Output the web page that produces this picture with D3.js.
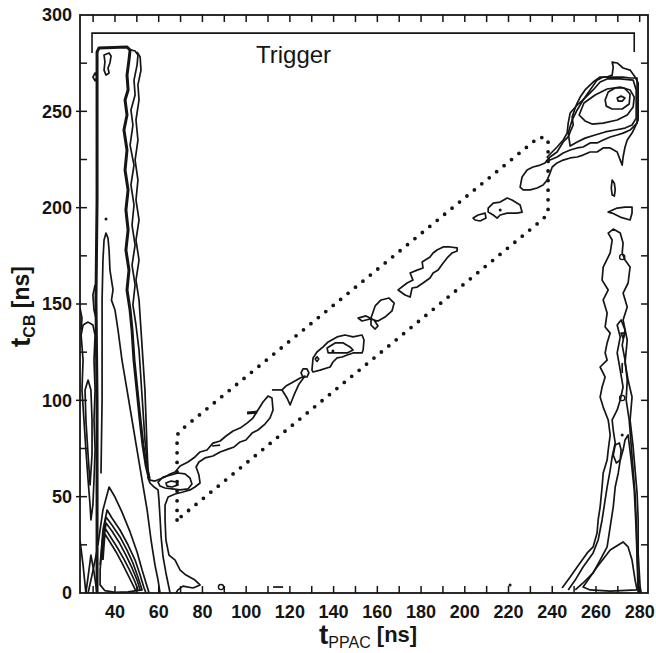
<!DOCTYPE html>
<html><head><meta charset="utf-8">
<script src="https://cdn.jsdelivr.net/npm/d3@7"></script>
<style>body{margin:0;background:#fff}svg{display:block}</style>
</head><body><svg id="c" width="656" height="653"></svg>
<script>
// ---------- axes / ticks ----------
const xDomain = [24, 283.8];
const yDomain = [0, 300];
const xTickLabels = [40, 60, 80, 100, 120, 140, 160, 180, 200, 220, 240, 260, 280];
const xMinorTicks = [30, 40, 50, 60, 70, 80, 90, 100, 110, 120, 130, 140, 150, 160, 170, 180, 190, 200, 210, 220, 230, 240, 250, 260, 270, 280];
const yTickLabels = [0, 50, 100, 150, 200, 250, 300];
const yMinorTicks = [25, 50, 75, 100, 125, 150, 175, 200, 225, 250, 275];

// ---------- annotations ----------
const triggerBracket = [[29.5, 280.3], [29.5, 290.6], [277.5, 290.6], [277.5, 280.8]];
const triggerLabel = {text: "Trigger", x: 104.5, y: 275};
const gateBox = [[68.4, 37.9], [68.4, 82.0], [70.2, 84.6], [234.0, 236.7], [238.1, 235.6], [238.1, 197.2], [235.8, 194.1], [68.4, 37.9]];

// ---------- contour lines (t_PPAC, t_CB) ----------
const leftColumnEdge = [[31.8,0],[31.8,100.2],[31.3,152.1],[31.8,204],[31.8,255.9],[31.8,280.8],[32.7,282.9],[45.5,283.4],[46.9,281.8],[46.4,276.6],[45.5,268.8],[46,261.1],[44.6,255.9],[45.5,248.1],[44.1,240.3],[45.5,229.9],[44.6,219.5],[46,209.2],[45,198.8],[46,188.4],[45,178],[46.4,167.6],[45.5,157.3],[46.9,146.9],[47.8,136.5],[48.7,120.9],[50.1,105.4],[51.5,89.8],[52.8,76.8],[54.2,66.4],[55.6,59.7]];
const columnMid = [[46,282.3],[49.2,281.3],[50.5,279.2],[50.1,274],[48.7,266.2],[49.2,258.5],[47.3,250.7],[48.2,242.9],[46.9,232.5],[48.7,222.1],[47.3,211.8],[48.7,201.4],[47.8,191],[49.2,180.6],[47.8,170.2],[49.2,159.9],[48.2,149.5],[49.6,139.1],[51,126.1],[51.9,110.5],[52.8,95],[53.7,79.4],[54.7,69],[55.1,59.7],[56,57.1],[57.9,55],[59.7,53.5],[60.1,48.3],[60.6,39.4],[61.1,29.1],[62,18.7],[63.3,10.4],[65.2,0]];
const columnOuter = [[50.1,280.8],[51.5,278.2],[51.9,271.4],[50.5,263.7],[51,255.9],[49.6,245.5],[50.5,235.1],[49.2,224.7],[50.5,214.3],[49.6,204],[51,193.6],[49.6,183.2],[51,172.8],[49.6,162.4],[51,152.1],[51.9,136.5],[52.8,120.9],[53.7,105.4],[54.2,89.8],[54.7,74.2],[55.1,63.8],[56,58.6],[58.3,58.1],[60.6,59.2],[62.9,60.2],[65.2,61.8],[67.5,62.8],[69.8,65.9],[73.4,68],[76.6,70.6],[78.9,73.2],[82.1,74.2],[84.8,77.8],[88.1,78.9],[90.8,81.5],[94,84.1],[97.2,85.6],[100.4,88.2],[103.1,90.8],[105.4,95],[107.7,99.1],[110,102.2],[111.8,101.2],[112.3,95],[110.9,90.8],[108.6,87.7],[105.4,84.6],[102.7,83],[99.9,79.4],[97.2,78.4],[94.5,75.8],[91.7,74.7],[88.1,73.2],[84.8,71.1],[81.2,70.1],[78.4,68],[77.1,65.4],[78.4,61.2],[78.9,57.1],[76.6,55],[74.3,53.5],[71.1,52.4],[67.5,51.4],[64.3,49.8],[62.9,45.7],[62.9,37.9],[63.3,27.5],[64.7,19.7],[67.5,17.1],[69.8,11.9],[72.5,9.3],[76.6,6.7],[78.9,4.2],[75.7,2.6],[71.1,3.6],[68.8,1.6],[67.9,0]];
const innerSpike = [[33.6,62],[34.1,100.2],[34.1,152.1],[34.5,172.8],[35,183.2],[35.9,186.8],[36.8,184.2],[37.3,178],[37.7,167.6],[39.1,157.3],[38.4,152],[40,146.9],[41.4,136.5],[43.2,120.9],[45.5,105.4],[47.8,89.8],[50.1,74.2],[52.4,58.6],[54.7,43.1],[56.5,27.5],[58.3,14.5],[59.7,6.7],[60.6,0]];
const baseArc0 = [[32.2,24.9],[34.5,43.1],[37.3,55],[40,49.8],[43.2,42],[46.9,31.7],[50.1,21.3],[52.4,11.9],[54.2,5.2],[55.6,0]];
const baseArc1 = [[33.2,14.5],[34.5,32.7],[36.4,43.1],[38.6,38.9],[42.3,32.7],[46,24.9],[49.2,17.1],[51.5,9.3],[53.3,2.6],[54.2,0]];
const baseArc2 = [[33.2,11.9],[34.5,30.1],[35.9,39.4],[38.6,35.3],[42.3,29.1],[45.5,22.3],[48.2,15.6],[50.5,8.3],[52.4,1.6],[46,0.6],[40,0.4],[35.4,1.2],[33.2,4.2]];
const baseArc3 = [[33.6,17.1],[35,29.1],[35.9,36.3],[38.6,32.2],[41.8,26.5],[45,19.7],[47.8,13],[50.1,6.7],[51.5,1.6]];
const baseArc4 = [[34.1,17.1],[34.5,24.9],[35.4,33.7],[37.7,29.6],[40.9,23.9],[44.1,17.6],[46.9,11.4],[49.2,5.7],[50.5,1.6]];
const baseArc5 = [[34.5,17.1],[35,24.9],[35.4,30.6],[37.7,26.5],[40.5,21.3],[43.2,15.6],[46,9.3],[48.2,4.2],[49.6,1]];
const edgeLoop1 = [[24.5,133.9],[25.4,120.9],[24.9,105.4],[25.8,89.8],[26.7,74.2],[27.7,58.6],[28.6,45.7],[29,37.9],[29.9,45.7],[30.4,58.6],[30.9,74.2],[30.4,89.8],[30.9,105.4],[30.4,120.9],[30.9,133.9],[29.9,139.1],[27.7,140.6],[25.4,139.1]];
const edgeLoop2 = [[26.3,105.4],[26.7,89.8],[27.7,71.6],[28.6,56.1],[29.5,71.6],[29.5,89.8],[29,105.4],[27.7,110.5]];
const edgeFoot1 = [[24,27.5],[25.4,14.5],[26.7,0]];
const edgeFoot2 = [[26.7,0],[28.1,11.9],[29,19.7],[30.4,10.9],[31.8,0]];
const edgeFoot3 = [[27.7,0],[29.5,9.3],[30.9,17.1],[31.8,22.3]];
const edgeBits = [[30.9,159.9],[29.9,154.7],[30.4,146.9],[31.3,142.7]];
const edgeBits2 = [[24,147.9],[24.9,142.7],[24.5,136.5]];
const topLoop = [[35,279.2],[37.3,280.3],[38.2,278.7],[37.7,275.1],[36.8,272.5],[37.3,269.9],[35.9,268.8],[35,271.4],[35.4,275.6]];
const sideBump = [[30.9,269.9],[29.9,267.8],[30.9,265.8],[31.8,267.8]];
const shoulderBlob = [[59.7,57.6],[62,60.2],[65.2,61.2],[68.8,62.3],[72,61.8],[74.3,59.7],[75.2,56.6],[73.4,54],[69.8,53.5],[66.1,54],[62.9,54.5],[60.6,55.5]];
const shoulderCore = [[63.3,57.1],[65.6,58.1],[68.4,57.6],[68.8,56.1],[66.1,55],[63.8,55.5]];
const bandDash1 = [[100.4,93.4],[105,93.9]];
const bandDash2 = [[84.4,76.3],[88.1,76.8]];
const crossTail = [[111.8,105.4],[116.4,105.4]];
const crossLoop = [[116.4,105.4],[118.7,101.2],[120.1,97.6],[121.9,102.8],[124.2,108.5],[126.9,112.6],[124.7,111.6],[121.5,109.5],[118.2,107.4]];
const ring1 = [[125.1,114.2],[126,116.3],[127.8,116.3],[128.7,114.2],[127.8,112.1],[126,112.1]];
const midBlob = [[130.1,115.7],[130.6,122],[132.4,125.1],[135.2,127.7],[137.5,130.3],[141.6,132.9],[145.2,133.9],[148.9,132.9],[153,133.9],[153.9,131.3],[153.5,126.1],[153,124.6],[148.9,124.6],[146.2,123.5],[143.9,122.5],[141.6,122],[139.7,119.9],[138.4,117.3],[133.8,115.7],[130.6,114.7]];
const midCore = [[137,127.2],[140.7,129.8],[144.4,129.8],[147.5,127.7],[148.9,126.1],[146.2,124.6],[141.6,124.6],[137.5,124.6]];
const ring2 = [[131.6,121.4],[132.4,122.6],[133.2,121.4],[132.4,120.2]];
const bowtie = [[151.2,142.7],[154.8,143.8],[158.5,141.7],[160.3,138.6],[159,137],[157.1,139.1],[157.1,142.7],[159,149],[161.7,152.1],[165.4,153.1],[167.7,150.5],[166.7,146.4],[163.5,143.2],[160.3,141.2],[156.7,142.2],[153,141.2]];
const wavyBand = [[169.5,157.3],[173.6,160.9],[176.3,162.4],[175,166.1],[178.2,167.6],[180.9,168.7],[180.5,171.8],[184.1,174.4],[185.5,176.5],[187.3,178],[190.1,179.6],[193.3,179.6],[196.5,179.1],[196.5,177.5],[194.2,176.5],[191.9,173.9],[190.1,171.3],[187.8,167.6],[185.5,166.1],[184.1,163.5],[180.9,160.9],[178.2,158.8],[175.9,158.3],[175,153.6],[172.7,154.7]];
const smallLeaf = [[203.8,194.6],[206.1,196.2],[209.3,197.2],[209.7,194.6],[207,193.1],[204.7,193.6]];
const smallBlob = [[210.7,199.8],[213,202.4],[216.2,202.9],[219.4,205],[221.6,204],[225.3,201.4],[226.2,197.7],[223.9,197.2],[219.4,197.2],[216.2,196.2],[214.8,194.6],[213,196.2],[210.7,197.7]];
const peakOuter = [[225.3,210.7],[226.2,215.9],[228.5,219.5],[231.2,221.1],[234.5,222.1],[236.7,223.2],[237.7,224.7],[239,226.3],[242.2,228.9],[243.6,231.5],[245,234.1],[247.3,236.7],[248.2,239.3],[249.6,242.9],[249.1,247],[250.5,251.7],[251.4,254.3],[252.8,257.4],[255,261.1],[258.7,265.2],[261.9,267.8],[265.1,267.8],[267.4,268.8],[267.9,273],[267.4,275.6],[269.7,275.1],[272.4,272.5],[275.6,271.4],[277.9,267.8],[279.3,264.7],[279.3,245.5],[277.9,241.9],[276.5,238.7],[274.3,235.1],[273.3,231.5],[272.4,226.3],[272,222.1],[271.1,224.7],[269.7,228.9],[266.5,231],[263.3,231],[260.5,228.9],[257.3,228.9],[254.1,227.3],[251.4,226.3],[248.2,225.8],[245,224.7],[242.2,223.2],[240,221.1],[239,218],[237.7,214.3],[235.8,211.8],[233.1,210.2],[229.9,209.2],[226.7,209.2]];
const peakSecond = [[237.7,226.3],[242.2,231.5],[245,235.1],[246.8,238.7],[247.3,243.9],[248.2,249.1],[251.4,253.3],[254.1,255.9],[257.3,261.1],[260.5,266.2],[263.3,267.8],[267.9,267.8],[272.4,267.8],[275.6,267.3],[278.8,267.3],[278.8,243.9],[275.6,240.3],[272.4,238.7],[269.7,237.7],[266.5,236.7],[263.3,235.1],[260.5,233.6],[257.3,233.6],[254.1,231.5],[251.4,231],[248.2,229.9],[245,228.4],[242.2,226.3],[239,224.7]];
const peakThird = [[248.2,232],[247.3,238.7],[249.1,245.5],[251.4,250.7],[254.1,255.9],[258.7,261.1],[261.9,265.2],[265.1,266.8],[271.1,266.8],[277,266.2],[278.4,261.1],[278.4,246.5],[276.5,242.9],[273.3,241.3],[268.8,240.3],[264.2,239.3],[259.6,237.7],[255,236.1],[251.4,234.1]];
const peakOval = [[252.3,248.1],[254.5,254.3],[259.6,258.5],[265.1,261.6],[271.1,262.6],[275.6,261.1],[277.5,257.4],[277,252.2],[274.3,248.1],[269.7,245.5],[263.3,243.9],[258.2,243.4],[255,245]];
const peakInner = [[264.2,255.9],[265.6,260],[268.8,262.1],[272.9,262.1],[275.6,259],[275.2,253.8],[272,251.2],[267.4,251.2],[264.7,252.7]];
const peakCore = [[269.7,256.9],[271.5,257.9],[273.3,256.9],[272,255.3],[270.2,255.3]];
const rightSliver = [[267.4,214.3],[268.4,212.7],[268.8,209.2],[268.4,206],[267.4,206.6],[267,210.2]];
const rightWedge = [[265.6,197.7],[269.7,199.8],[273.3,200.3],[276.5,200.3],[276.5,197.2],[275.6,193.6],[271.1,195.1],[267.4,197.2]];
const rightOuter = [[244.5,2.6],[248.2,8.3],[251.4,13.5],[256,20.8],[258.7,23.9],[260.5,31.1],[261,37.9],[261.9,44.6],[262.8,55],[263.3,62.3],[265.1,69],[265.6,74.2],[266.5,82],[265.6,89.8],[263.3,96.5],[261.9,101.7],[262.8,106.9],[264.2,112.1],[261.9,117.3],[265.1,120.9],[264.2,124.6],[265.1,129.8],[266.5,134.9],[264.2,138.1],[265.1,145.3],[263.3,152.1],[265.6,157.3],[262.8,162.4],[263.3,169.2],[266.5,176.5],[267.4,183.2],[265.6,186.8],[267.9,188.9],[271.1,186.8],[272.4,181.7],[272,176.5],[273.3,172.8],[275.6,169.2],[274.7,160.9],[272.4,155.7],[274.3,148.4],[272.4,141.7],[274.3,131.3],[273.3,119.4],[274.7,110.5],[276.5,101.7],[275.6,89.8],[277,75.8],[277.9,63.8],[278.8,51.9],[279.3,37.9],[279.3,20.8],[280.2,3.1],[280.7,0]];
const rightSecond = [[247.3,1.6],[250.5,6.7],[254.1,13.5],[258.7,20.8],[261,27.5],[262.8,37.9],[264.2,48.3],[265.1,55],[266.5,63.8],[267.4,70.6],[268.8,77.9],[267.9,84.6],[267.4,89.8],[269.7,95],[271.1,100.2],[272.4,106.9],[271.1,115.7],[269.7,124.6],[271.1,132.9],[269.7,139.1],[271.5,141.7],[273.3,136.5],[272,128.7],[273.3,120.9],[274.3,110.5],[273.8,100.2],[275.2,89.8],[276.1,76.8],[277,63.8],[277.9,50.9],[278.4,37.9],[278.8,22.3],[279.3,6.7],[279.7,0]];
const rightThird = [[250.5,1.6],[254.1,5.2],[258.7,10.4],[261.9,17.1],[265.1,23.9],[266.5,34.3],[267.9,44.6],[268.8,55],[270.2,62.3],[271.1,69],[272.4,74.2],[273.3,79.4],[274.7,82],[276.1,69],[277.5,53.5],[278.4,32.7],[279.3,0]];
const rightIsland = [[267.9,71.6],[268.8,76.8],[270.7,77.9],[271.5,74.2],[271.1,69],[269.3,67.5]];
const rightDash = [[272,119.4],[272,114.2]];
const rightTriangle = [[254.1,3.1],[260.5,13.5],[266.5,22.3],[272.4,26.5],[274.7,23.9],[276.5,17.1],[277.9,6.7],[278.8,1.6],[266.5,1],[257.3,1.6]];
const rightTick = [[271.5,134.9],[273.3,134.9],[272.4,132.3]];
const bottomDash = [[112.3,3.1],[116.9,3.1]];
const smallRings = [[88.5,3.1],[272,101.2],[272,174.4]];
const dots = [[68.4,56.6],[139.7,125.6],[216.2,198.8],[272,82],[220.7,4.2],[35.9,194.1]];

const openLines = [columnMid, columnOuter, innerSpike, baseArc0, baseArc1, baseArc3, baseArc4, baseArc5,
  edgeFoot1, edgeFoot2, edgeFoot3, edgeBits, edgeBits2, bandDash2, crossTail, rightSecond, rightThird, rightDash, bottomDash, rightOuter];
const closedLines = [baseArc2, edgeLoop1, edgeLoop2, topLoop, sideBump, shoulderBlob, shoulderCore, crossLoop, ring1, midBlob, midCore, ring2,
  bowtie, wavyBand, smallLeaf, smallBlob, peakOuter, peakSecond, peakThird, peakOval, peakInner, peakCore,
  rightSliver, rightWedge, rightIsland, rightTriangle, rightTick];
const thickLines = [leftColumnEdge, bandDash1];

// ---------- drawing ----------
const x = d3.scaleLinear().domain(xDomain).range([80, 648]);
const y = d3.scaleLinear().domain(yDomain).range([593, 15]);
const svg = d3.select("#c");
const ink = "#151515";
const font = "'Liberation Sans', Arial, sans-serif";

svg.append("defs").append("clipPath").attr("id", "plot")
  .append("rect").attr("x", 80).attr("y", 15).attr("width", 568).attr("height", 578);

const g = svg.append("g").attr("clip-path", "url(#plot)");
const lineOpen = d3.line().x(d => x(d[0])).y(d => y(d[1]));
const lineClosed = d3.line().x(d => x(d[0])).y(d => y(d[1])).curve(d3.curveLinearClosed);

g.selectAll(".open").data(openLines).join("path")
  .attr("d", lineOpen).attr("fill", "none").attr("stroke", ink).attr("stroke-width", 1.7).attr("stroke-linejoin", "round");
g.selectAll(".closed").data(closedLines).join("path")
  .attr("d", lineClosed).attr("fill", "none").attr("stroke", ink).attr("stroke-width", 1.7).attr("stroke-linejoin", "round");
g.selectAll(".thick").data(thickLines).join("path")
  .attr("d", lineOpen).attr("fill", "none").attr("stroke", ink).attr("stroke-width", 3).attr("stroke-linejoin", "round");
g.selectAll(".ring").data(smallRings).join("circle")
  .attr("cx", d => x(d[0])).attr("cy", d => y(d[1])).attr("r", 2.6).attr("fill", "none").attr("stroke", ink).attr("stroke-width", 1.4);
g.selectAll(".dot").data(dots).join("circle")
  .attr("cx", d => x(d[0])).attr("cy", d => y(d[1])).attr("r", 1.5).attr("fill", ink);

// dotted gate
svg.append("path").datum(gateBox).attr("d", lineOpen)
  .attr("fill", "none").attr("stroke", ink).attr("stroke-width", 3.8)
  .attr("stroke-linecap", "round").attr("stroke-dasharray", "0 9.6");

// trigger bracket
svg.append("path").datum(triggerBracket).attr("d", lineOpen)
  .attr("fill", "none").attr("stroke", ink).attr("stroke-width", 1.6);
svg.append("text").attr("x", x(triggerLabel.x)).attr("y", y(triggerLabel.y))
  .attr("font-family", font).attr("font-size", 24).attr("fill", ink).text(triggerLabel.text);

// frame
svg.append("rect").attr("x", 80).attr("y", 15).attr("width", 568).attr("height", 578)
  .attr("fill", "none").attr("stroke", ink).attr("stroke-width", 1.8);

// ticks
const tk = svg.append("g").attr("stroke", ink).attr("stroke-width", 1.5);
tk.selectAll(".tb").data(xMinorTicks).join("line")
  .attr("x1", d => x(d)).attr("x2", d => x(d)).attr("y1", 593).attr("y2", 586);
tk.selectAll(".tt").data(xMinorTicks).join("line")
  .attr("x1", d => x(d)).attr("x2", d => x(d)).attr("y1", 15).attr("y2", 22);
tk.selectAll(".tl").data(yMinorTicks).join("line")
  .attr("y1", d => y(d)).attr("y2", d => y(d)).attr("x1", d => d % 50 === 0 ? 76 : 80).attr("x2", 87);
tk.selectAll(".tr").data(yMinorTicks).join("line")
  .attr("y1", d => y(d)).attr("y2", d => y(d)).attr("x1", 648).attr("x2", 641);

// tick labels
svg.selectAll(".xl").data(xTickLabels).join("text")
  .attr("x", d => x(d)).attr("y", 618).attr("text-anchor", "middle")
  .attr("font-family", font).attr("font-size", 18).attr("font-weight", "bold").attr("fill", ink).text(d => d);
svg.selectAll(".yl").data(yTickLabels).join("text")
  .attr("x", 72).attr("y", d => y(d)).attr("dy", "0.36em").attr("text-anchor", "end")
  .attr("font-family", font).attr("font-size", 18).attr("font-weight", "bold").attr("fill", ink).text(d => d);

// axis titles
const xt = svg.append("text").attr("x", 319).attr("y", 644).attr("font-family", font).attr("fill", ink);
xt.append("tspan").attr("font-size", 28).attr("font-weight", "bold").text("t");
xt.append("tspan").attr("font-size", 16).attr("dy", 4).text("PPAC");
xt.append("tspan").attr("font-size", 22).attr("font-weight", "bold").attr("dy", -6).text(" [ns]");

const yt = svg.append("text").attr("transform", "translate(30,347) rotate(-90)").attr("font-family", font).attr("fill", ink);
yt.append("tspan").attr("font-size", 28).attr("font-weight", "bold").text("t");
yt.append("tspan").attr("font-size", 16).attr("font-weight", "bold").attr("dy", 5).text("CB");
yt.append("tspan").attr("font-size", 23).attr("font-weight", "bold").attr("dy", -6).text(" [ns]");
</script>
</body></html>
